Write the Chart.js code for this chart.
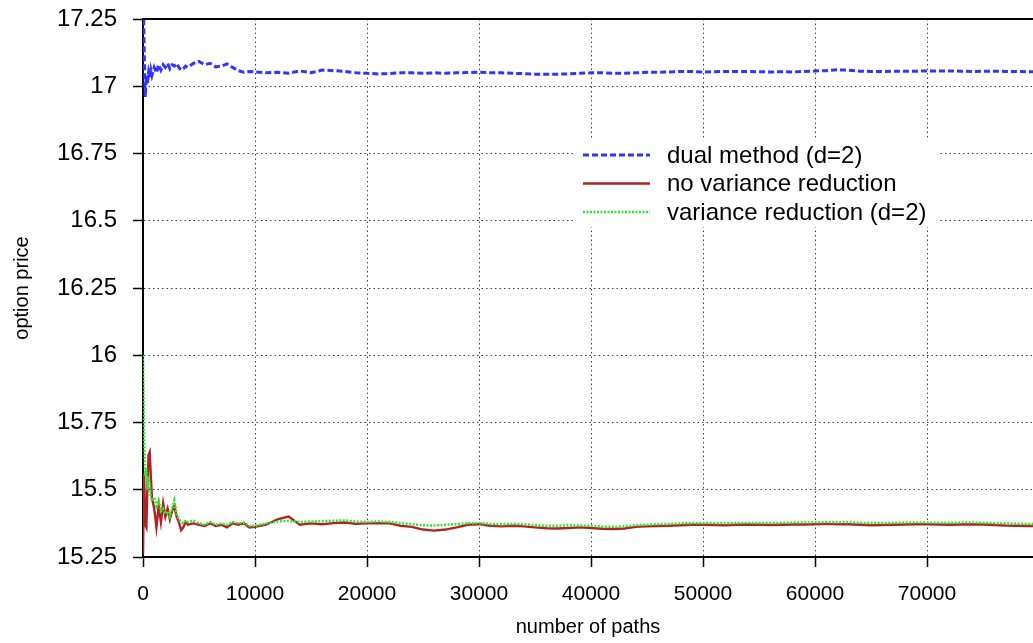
<!DOCTYPE html>
<html lang="en">
<head>
    <meta charset="UTF-8">
    <title>option price vs number of paths</title>
    <style>
        * { margin: 0; padding: 0; box-sizing: border-box; }
        body { background: #fff; overflow: hidden; }
        #chart { display: block; }
    </style>
</head>
<body>
    <canvas id="chart" width="1033" height="643"></canvas>

    <script src="https://cdn.jsdelivr.net/npm/chart.js@4/dist/chart.umd.min.js"></script>
    <script>
// number of simulated paths (x values)
const paths = [
    0, 100, 200, 300, 400, 500, 600, 700, 800,
    1000, 1200, 1400, 1600, 1800, 2000, 2200, 2400, 2600, 2800, 3000, 3200, 3400, 3600, 3800, 4000,
    4500, 5000, 5500, 6000, 6500, 7000, 7500, 8000, 8500, 9000, 9500, 10000,
    11000, 12000, 13000, 14000, 15000, 16000, 17000, 18000, 19000, 20000,
    21000, 22000, 23000, 24000, 25000, 26000, 27000, 28000, 29000, 30000,
    31000, 32000, 33000, 34000, 35000, 36000, 37000, 38000, 39000, 40000,
    41000, 42000, 43000, 44000, 45000, 46000, 47000, 48000, 49000, 50000,
    51000, 52000, 53000, 54000, 55000, 56000, 57000, 58000, 59000, 60000,
    61000, 62000, 63000, 64000, 65000, 66000, 67000, 68000, 69000, 70000,
    71000, 72000, 73000, 74000, 75000, 76000, 77000, 78000, 79000, 80000
];

// dual method (d=2)
const dualPrice = [
    17.45, 17.15, 16.96, 17.04, 17.01, 17.05, 17.03, 17.06, 17.04,
    17.07, 17.05, 17.08, 17.06, 17.08, 17.07, 17.085, 17.065, 17.08, 17.075, 17.085, 17.07, 17.06, 17.065, 17.075, 17.07,
    17.085, 17.092, 17.08, 17.085, 17.072, 17.075, 17.083, 17.07, 17.058, 17.052, 17.055, 17.053,
    17.05, 17.052, 17.048, 17.057, 17.05, 17.06, 17.058, 17.055, 17.05, 17.048,
    17.046, 17.047, 17.05, 17.05, 17.048, 17.05, 17.048, 17.05, 17.051, 17.052,
    17.05, 17.05, 17.048, 17.047, 17.045, 17.045, 17.045, 17.046, 17.048, 17.05,
    17.05, 17.048, 17.048, 17.05, 17.052, 17.052, 17.053, 17.055, 17.055, 17.053,
    17.054, 17.055, 17.055, 17.055, 17.054, 17.053, 17.054, 17.053, 17.055, 17.057,
    17.058, 17.061, 17.06, 17.056, 17.055, 17.055, 17.056, 17.056, 17.056, 17.057,
    17.057, 17.057, 17.056, 17.055, 17.056, 17.056, 17.055, 17.055, 17.054, 17.054
];

// no variance reduction
const plainPrice = [
    15.26, 15.56, 15.37, 15.36, 15.52, 15.63, 15.64, 15.55, 15.47,
    15.43, 15.36, 15.44, 15.38, 15.45, 15.40, 15.43, 15.39, 15.42, 15.44, 15.40, 15.38, 15.35, 15.36, 15.38, 15.37,
    15.375, 15.37, 15.365, 15.375, 15.365, 15.37, 15.36, 15.375, 15.37, 15.375, 15.36, 15.362,
    15.37, 15.39, 15.40, 15.37, 15.375, 15.372, 15.376, 15.378, 15.373, 15.375,
    15.376, 15.375, 15.366, 15.362, 15.352, 15.348, 15.352, 15.36, 15.37, 15.372,
    15.366, 15.364, 15.366, 15.364, 15.36, 15.357, 15.356, 15.358, 15.36, 15.358,
    15.355, 15.354, 15.356, 15.362, 15.364, 15.365, 15.366, 15.368, 15.37, 15.37,
    15.369, 15.368, 15.37, 15.371, 15.37, 15.369, 15.37, 15.371, 15.371, 15.372,
    15.373, 15.372, 15.372, 15.37, 15.368, 15.369, 15.37, 15.371, 15.372, 15.372,
    15.371, 15.37, 15.371, 15.372, 15.371, 15.369, 15.367, 15.366, 15.365, 15.365
];

// variance reduction (d=2)
const reducedPrice = [
    16.0, 15.7, 15.55, 15.58, 15.50, 15.55, 15.52, 15.47, 15.46,
    15.47, 15.44, 15.46, 15.42, 15.43, 15.41, 15.42, 15.40, 15.43, 15.46, 15.41, 15.39, 15.38, 15.375, 15.385, 15.38,
    15.385, 15.375, 15.37, 15.38, 15.37, 15.375, 15.37, 15.38, 15.375, 15.378, 15.365, 15.366,
    15.375, 15.382, 15.385, 15.38, 15.382, 15.383, 15.385, 15.386, 15.382, 15.38,
    15.382, 15.38, 15.376, 15.372, 15.368, 15.367, 15.37, 15.372, 15.375, 15.376,
    15.373, 15.372, 15.373, 15.372, 15.368, 15.366, 15.366, 15.368, 15.367, 15.366,
    15.363, 15.362, 15.364, 15.368, 15.37, 15.372, 15.373, 15.375, 15.376, 15.376,
    15.376, 15.375, 15.376, 15.377, 15.376, 15.376, 15.377, 15.378, 15.378, 15.379,
    15.38, 15.379, 15.379, 15.377, 15.376, 15.376, 15.377, 15.378, 15.378, 15.378,
    15.377, 15.377, 15.378, 15.378, 15.377, 15.376, 15.375, 15.374, 15.373, 15.373
];

const xTicks = [0, 10000, 20000, 30000, 40000, 50000, 60000, 70000];
const yTicks = [15.25, 15.5, 15.75, 16, 16.25, 16.5, 16.75, 17, 17.25];

const FAMILY = '"Liberation Sans", Arial, sans-serif';
const TICK_FONT = { family: FAMILY, size: 21 };
const Y_TICK_FONT = { family: FAMILY, size: 24 };
const TITLE_FONT = { family: FAMILY, size: 20 };
const KEY_FONT = '24px ' + FAMILY;

function toPoints(ys) {
    return paths.map((p, i) => ({ x: p, y: ys[i] }));
}

// gnuplot style: solid top border and an opaque key inside the plot
const frameAndKey = {
    id: 'frameAndKey',
    afterDatasetsDraw(chart) {
        const { ctx, chartArea: a } = chart;
        ctx.save();
        ctx.strokeStyle = '#000';
        ctx.lineWidth = 2;
        ctx.beginPath();
        ctx.moveTo(a.left, a.top);
        ctx.lineTo(a.right, a.top);
        ctx.stroke();

        ctx.fillStyle = '#fff';
        ctx.fillRect(575, 140, 364, 87);

        ctx.font = KEY_FONT;
        ctx.textBaseline = 'middle';
        chart.data.datasets.forEach((ds, i) => {
            const y = 155 + i * 28.5;
            ctx.strokeStyle = ds.borderColor;
            ctx.lineWidth = ds.borderWidth;
            ctx.setLineDash(ds.borderDash || []);
            ctx.beginPath();
            ctx.moveTo(583, y);
            ctx.lineTo(650, y);
            ctx.stroke();
            ctx.setLineDash([]);
            ctx.fillStyle = '#000';
            ctx.fillText(ds.label, 667, y + 1);
        });
        ctx.restore();
    }
};

const gridOpts = {
    color: 'rgba(0,0,0,0.75)',
    lineWidth: 1,
    tickLength: 10,
    tickColor: '#000',
    tickWidth: 1.5,
    tickBorderDash: []
};
const borderOpts = { color: '#000', width: 2, dash: [1.5, 3] };

new Chart(document.getElementById('chart'), {
    type: 'line',
    data: {
        datasets: [
            {
                label: 'dual method (d=2)',
                data: toPoints(dualPrice),
                borderColor: '#3333ff',
                borderWidth: 3,
                borderDash: [6, 3],
                order: 2
            },
            {
                label: 'no variance reduction',
                data: toPoints(plainPrice),
                borderColor: '#b22222',
                borderWidth: 2.4,
                order: 1
            },
            {
                label: 'variance reduction (d=2)',
                data: toPoints(reducedPrice),
                borderColor: '#2ee62e',
                borderWidth: 2.5,
                borderDash: [2, 1.5],
                order: 0
            }
        ]
    },
    options: {
        responsive: false,
        animation: false,
        layout: { padding: { top: 19, left: 0, right: 0, bottom: 0 } },
        elements: { point: { radius: 0 }, line: { tension: 0, fill: false } },
        plugins: { legend: { display: false }, tooltip: { enabled: false } },
        scales: {
            x: {
                type: 'linear',
                min: 0,
                max: 79464,
                afterBuildTicks: s => { s.ticks = xTicks.map(v => ({ value: v })); },
                afterFit: s => { s.height = 86; s.paddingLeft = 0; s.paddingRight = 0; },
                ticks: { font: TICK_FONT, color: '#000', padding: 15, maxRotation: 0, callback: v => String(v) },
                grid: gridOpts,
                border: borderOpts,
                title: { display: true, text: 'number of paths', font: TITLE_FONT, color: '#000', padding: { top: 0, bottom: 4 } }
            },
            y: {
                min: 15.25,
                max: 17.25,
                afterBuildTicks: s => { s.ticks = yTicks.map(v => ({ value: v })); },
                afterFit: s => { s.width = 143; s.paddingTop = 0; s.paddingBottom = 0; },
                ticks: { font: Y_TICK_FONT, color: '#000', padding: 16, callback: v => String(Math.round(v * 100) / 100) },
                grid: gridOpts,
                border: borderOpts,
                title: { display: true, text: 'option price', font: TITLE_FONT, color: '#000', padding: { top: 10, bottom: 0 } }
            }
        }
    },
    plugins: [frameAndKey]
});
    </script>
</body>
</html>
